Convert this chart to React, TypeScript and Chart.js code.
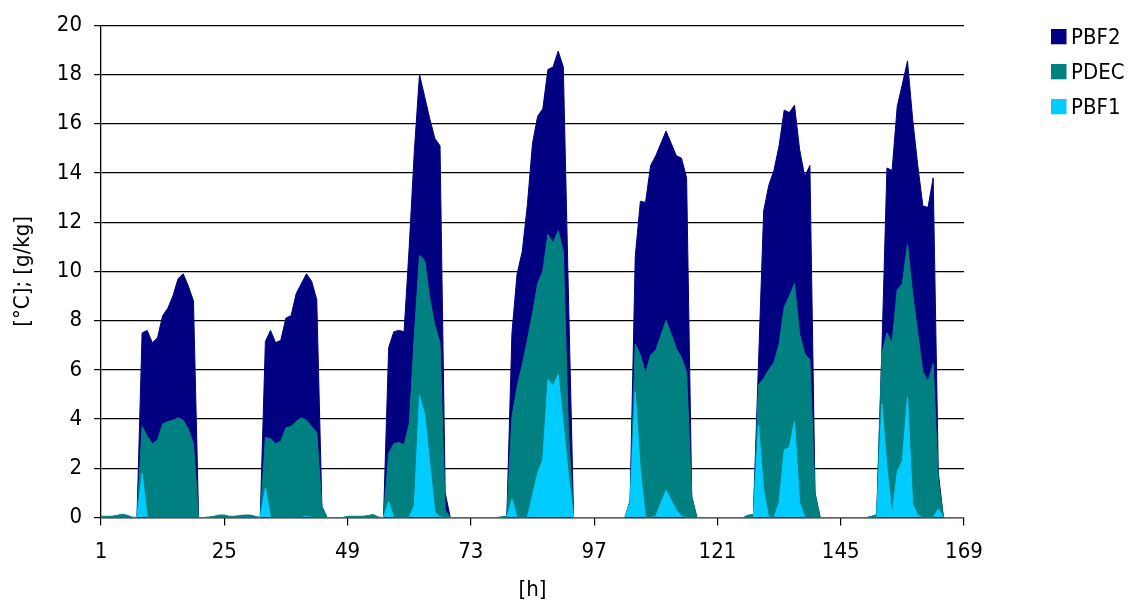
import { useEffect, useRef } from 'react';
import { Chart, registerables } from 'chart.js';

Chart.register(...registerables);

// hours 1..169 (category positions)
const hours: number[] = Array.from({ length: 169 }, (_, i) => i + 1);
const xTicks = [1, 25, 49, 73, 97, 121, 145, 169];
const seriesNames = ['PBF2', 'PDEC', 'PBF1'];
const seriesColors = ['#000080', '#008080', '#00CCFF'];

const pbf2 = [
  0, 0, 0, 0, 0, 0, 0, 0, 7.5, 7.6, 7.1, 7.3,
  8.2, 8.5, 9.0, 9.7, 9.9, 9.4, 8.8, 0, 0, 0, 0, 0,
  0, 0, 0, 0, 0, 0, 0, 0, 7.15, 7.6, 7.1, 7.2,
  8.1, 8.2, 9.1, 9.5, 9.9, 9.6, 8.85, 0.45, 0, 0, 0, 0,
  0, 0, 0, 0, 0, 0, 0, 0, 6.9, 7.55, 7.6, 7.55,
  11.0, 14.9, 18.0, 17.1, 16.2, 15.4, 15.1, 1.0, 0, 0, 0, 0,
  0, 0, 0, 0, 0, 0, 0, 0, 7.5, 9.9, 10.8, 12.7,
  15.2, 16.3, 16.6, 18.2, 18.3, 18.95, 18.3, 9.0, 0, 0, 0, 0,
  0, 0, 0, 0, 0, 0, 0, 0.7, 10.6, 12.85, 12.8, 14.3,
  14.7, 15.2, 15.7, 15.2, 14.7, 14.6, 13.8, 0.85, 0, 0, 0, 0,
  0, 0, 0, 0, 0, 0, 0, 0.1, 6.3, 12.45, 13.5, 14.1,
  15.1, 16.55, 16.45, 16.75, 14.95, 13.85, 14.3, 1.0, 0, 0, 0, 0,
  0, 0, 0, 0, 0, 0, 0, 0, 6.7, 14.2, 14.1, 16.7,
  17.6, 18.55, 16.2, 14.3, 12.65, 12.6, 13.8, 1.8, 0, 0, 0, 0,
  0,
];

const pdec = [
  0.05, 0.05, 0.05, 0.08, 0.13, 0.1, 0.02, 0, 3.7, 3.3, 3.0, 3.15,
  3.8, 3.9, 3.95, 4.05, 3.95, 3.6, 3.0, 0, 0, 0.02, 0.05, 0.1,
  0.1, 0.05, 0.05, 0.08, 0.1, 0.1, 0.05, 0, 3.25, 3.2, 3.0, 3.1,
  3.65, 3.7, 3.9, 4.05, 3.95, 3.7, 3.45, 0.45, 0, 0, 0, 0,
  0.05, 0.05, 0.05, 0.05, 0.08, 0.12, 0.02, 0, 2.6, 3.0, 3.05, 2.95,
  3.8, 7.4, 10.65, 10.45, 8.9, 7.8, 7.1, 0.3, 0, 0, 0, 0,
  0, 0, 0, 0, 0, 0, 0.03, 0.05, 4.1, 5.3, 6.2, 7.2,
  8.3, 9.5, 10.0, 11.5, 11.15, 11.65, 10.8, 3.5, 0, 0, 0, 0,
  0, 0, 0, 0, 0, 0, 0, 0.65, 7.05, 6.6, 5.85, 6.6,
  6.8, 7.4, 8.0, 7.45, 6.85, 6.5, 5.9, 0.85, 0, 0, 0, 0,
  0, 0, 0, 0, 0, 0, 0.1, 0.12, 5.4, 5.65, 6.0, 6.3,
  7.05, 8.55, 9.0, 9.5, 7.45, 6.65, 6.4, 0.95, 0, 0, 0, 0,
  0, 0, 0, 0, 0, 0, 0.05, 0.12, 6.65, 7.5, 7.1, 9.25,
  9.5, 11.1, 9.1, 7.5, 5.9, 5.55, 6.25, 1.5, 0, 0, 0, 0,
  0,
];

const pbf1 = [
  0, 0, 0, 0, 0, 0, 0, 0, 1.8, 0, 0, 0,
  0, 0, 0, 0, 0, 0, 0, 0, 0, 0, 0, 0,
  0, 0, 0, 0, 0, 0, 0, 0, 1.2, 0, 0, 0,
  0, 0, 0, 0, 0.05, 0, 0, 0, 0, 0, 0, 0,
  0, 0, 0, 0, 0, 0, 0, 0, 0.65, 0, 0, 0,
  0, 0.5, 4.95, 4.2, 2.2, 0.2, 0.03, 0, 0, 0, 0, 0,
  0, 0, 0, 0, 0, 0, 0, 0, 0.75, 0, 0, 0,
  0.9, 1.8, 2.35, 5.6, 5.35, 5.8, 3.8, 1.7, 0, 0, 0, 0,
  0, 0, 0, 0, 0, 0, 0, 0.65, 5.1, 1.9, 0, 0,
  0.05, 0.6, 1.1, 0.7, 0.3, 0.05, 0, 0, 0, 0, 0, 0,
  0, 0, 0, 0, 0, 0, 0, 0, 3.75, 1.1, 0, 0,
  0.6, 2.75, 2.85, 3.9, 0.6, 0, 0, 0, 0, 0, 0, 0,
  0, 0, 0, 0, 0, 0, 0, 0, 4.6, 2.05, 0.1, 1.85,
  2.3, 4.9, 0.55, 0.1, 0, 0, 0, 0.35, 0, 0, 0, 0,
  0,
];

const FONT = "'DejaVu Sans Condensed', 'DejaVu Sans', sans-serif";
const FONT_SIZE = 22;

const sideLegend = {
  id: 'sideLegend',
  afterDraw(chart: any) {
    const ctx = chart.ctx;
    ctx.save();
    ctx.font = `${FONT_SIZE}px ${FONT}`;
    ctx.textBaseline = 'alphabetic';
    ctx.textAlign = 'left';
    chart.data.datasets.forEach((ds: any, i: number) => {
      const top = 29 + i * 35;
      ctx.fillStyle = ds.backgroundColor;
      ctx.fillRect(1051, top, 15.5, 15.3);
      ctx.fillStyle = '#000';
      ctx.fillText(ds.label, 1071, top + 15.3);
    });
    ctx.restore();
  },
};

export default function App() {
  const ref = useRef<HTMLCanvasElement>(null);

  useEffect(() => {
    const seriesData = [pbf2, pdec, pbf1];
    const chart = new Chart(ref.current as HTMLCanvasElement, {
      type: 'line',
      data: {
        datasets: seriesData.map((arr, k) => ({
          label: seriesNames[k],
          data: arr.map((v, i) => ({ x: hours[i], y: v })),
          backgroundColor: seriesColors[k],
          borderColor: seriesColors[k],
          borderWidth: 1,
          fill: 'origin',
          pointRadius: 0,
          pointHoverRadius: 0,
          tension: 0,
          order: 3 - k,
        })),
      },
      options: {
        animation: false,
        responsive: false,
        events: [],
        layout: { padding: { left: 8, right: 166, top: 24, bottom: 1 } },
        plugins: {
          legend: { display: false },
          tooltip: { enabled: false },
        },
        scales: {
          x: {
            type: 'linear',
            min: 1,
            max: 169,
            afterBuildTicks: (s: any) => {
              s.ticks = xTicks.map((v) => ({ value: v }));
            },
            afterFit: (s: any) => {
              s.height = 85.5;
            },
            grid: {
              drawOnChartArea: false,
              drawTicks: true,
              tickLength: 8,
              color: '#000',
              lineWidth: 1.2,
            },
            border: { color: '#000', width: 1.3 },
            ticks: {
              font: { family: FONT, size: FONT_SIZE },
              color: '#000',
              padding: 14,
              maxRotation: 0,
              autoSkip: false,
            },
            title: {
              display: true,
              text: '[h]',
              font: { family: FONT, size: FONT_SIZE },
              color: '#000',
              padding: { top: 0, bottom: 0 },
            },
          },
          y: {
            min: 0,
            max: 20,
            afterFit: (s: any) => {
              s.width = 93;
            },
            ticks: {
              stepSize: 2,
              font: { family: FONT, size: FONT_SIZE },
              color: '#000',
              padding: 12,
            },
            grid: { color: '#000', lineWidth: 1.2, tickLength: 7 },
            border: { color: '#000', width: 1.3 },
            title: {
              display: true,
              text: '[°C]; [g/kg]',
              font: { family: FONT, size: FONT_SIZE },
              color: '#000',
              padding: { top: 2, bottom: 0 },
            },
          },
        },
      } as any,
      plugins: [sideLegend],
    });
    return () => chart.destroy();
  }, []);

  return (
    <div
      style={{
        position: 'fixed',
        left: 0,
        top: 0,
        width: 1130,
        height: 604,
        background: '#fff',
      }}
    >
      <canvas
        ref={ref}
        width={1130}
        height={604}
        style={{ display: 'block', width: 1130, height: 604 }}
      />
    </div>
  );
}
